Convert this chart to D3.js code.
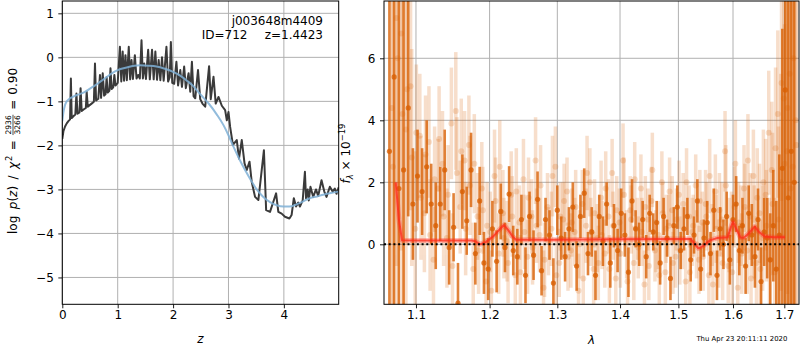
<!DOCTYPE html>
<html><head><meta charset="utf-8">
<script src="https://cdn.jsdelivr.net/npm/d3@7"></script>
<style>
body{margin:0;background:#fff}
svg{display:block}
text{font-family:"DejaVu Sans",sans-serif}
</style>
</head><body>
<svg id="c" width="800" height="350"></svg>
<script>
// ---------- DATA ----------
const pzZ = [0.00,0.02,0.05,0.08,0.11,0.14,0.155,0.17,0.20,0.235,0.255,0.275,0.31,0.33,0.35,0.39,0.425,0.44,0.46,0.50,
0.54,0.57,0.59,0.61,0.65,0.68,0.70,0.73,0.755,0.78,0.80,0.82,0.85,0.87,0.89,0.92,0.94,0.96,1.00,1.04,
1.065,1.09,1.115,1.14,1.165,1.20,1.225,1.25,1.275,1.31,1.34,1.37,1.40,1.43,1.455,1.48,1.51,1.55,1.58,1.62,
1.65,1.68,1.71,1.74,1.77,1.80,1.83,1.88,1.91,1.94,1.96,1.985,2.02,2.06,2.09,2.13,2.16,2.20,2.23,2.28,
2.31,2.34,2.37,2.40,2.45,2.49,2.53,2.58,2.65,2.68,2.73,2.77,2.82,2.88,2.94,2.97,3.00,3.03,3.08,3.15,
3.19,3.24,3.29,3.33,3.38,3.42,3.48,3.54,3.58,3.64,3.68,3.75,3.81,3.86,3.90,3.96,4.02,4.10,4.14,4.18,
4.22,4.26,4.29,4.34,4.38,4.40,4.43,4.45,4.48,4.53,4.58,4.62,4.68,4.73,4.77,4.83,4.88,4.92,4.95,4.99];
const pzLogp = [-1.85,-1.68,-1.57,-1.50,-1.45,-1.41,-0.48,-1.38,-1.34,-1.30,-0.82,-1.28,-1.25,-0.70,-1.22,-1.18,-1.15,-0.78,-1.12,-1.08,
-1.04,-1.01,-0.14,-0.98,-0.94,-0.40,-0.92,-0.36,-0.87,-0.84,-0.45,-0.80,-0.76,-0.25,-0.72,-0.68,-0.40,-0.64,-0.58,0.24,
-0.55,0.13,-0.53,0.05,-0.52,0.24,-0.50,-0.06,-0.49,0.05,-0.48,-0.40,-0.48,0.39,-0.48,-0.14,-0.49,0.17,-0.50,0.17,
-0.50,0.13,-0.51,-0.06,-0.52,0.00,-0.53,0.24,-0.55,-0.45,0.35,-0.58,-0.60,-0.10,-0.64,-0.29,-0.67,-0.21,-0.70,-0.36,
-0.78,-0.10,-0.88,-0.93,-0.29,-0.95,-1.05,-1.12,-0.20,-0.95,-0.44,-1.05,-0.90,-1.10,-1.20,-1.43,-1.24,-1.58,-1.99,-1.88,
-2.30,-1.88,-2.41,-2.56,-2.37,-2.83,-3.17,-3.24,-2.79,-2.11,-3.47,-3.51,-3.28,-3.09,-3.51,-3.55,-3.62,-3.66,-3.58,-3.20,
-3.39,-3.30,-3.39,-3.25,-2.60,-3.20,-3.00,-3.25,-2.94,-3.17,-3.00,-3.15,-2.79,-3.05,-3.17,-2.94,-3.05,-2.98,-3.10,-2.95];

const priorZ = [0.00,0.02,0.05,0.08,0.13,0.2,0.3,0.4,0.5,0.6,0.7,0.8,0.9,1.0,1.16,1.3,1.4,1.55,1.7,1.85,2.0,2.12,2.25,2.37,
2.45,2.55,2.65,2.79,2.91,3.0,3.09,3.2,3.3,3.4,3.51,3.62,3.75,3.87,3.99,4.1,4.23,4.35,4.47,4.6,4.71,4.85,4.99];
const priorLogp = [-1.45,-1.25,-1.08,-1.00,-0.94,-0.89,-0.84,-0.79,-0.71,-0.63,-0.54,-0.45,-0.36,-0.29,-0.23,-0.19,-0.18,-0.19,-0.21,-0.26,-0.33,-0.41,-0.53,-0.66,
-0.78,-0.92,-1.06,-1.30,-1.54,-1.77,-2.03,-2.32,-2.56,-2.78,-3.00,-3.16,-3.29,-3.36,-3.39,-3.39,-3.34,-3.27,-3.20,-3.16,-3.12,-3.08,-3.05];

const zTicks = [0,1,2,3,4];
const logpTicks = [-5,-4,-3,-2,-1,0,1];
const lamTicks = [1.1,1.2,1.3,1.4,1.5,1.6,1.7];
const fluxTicks = [0,2,4,6];

const darkWave = [1.066,1.072,1.078,1.084,1.090,1.096,1.102,1.108,1.114,1.120,
1.126,1.132,1.138,1.144,1.150,1.156,1.162,1.168,1.174,1.180,
1.186,1.192,1.198,1.204,1.210,1.216,1.222,1.228,1.234,1.240,
1.246,1.252,1.258,1.264,1.270,1.276,1.282,1.288,1.294,1.300,
1.306,1.312,1.318,1.324,1.330,1.336,1.342,1.348,1.354,1.360,
1.366,1.372,1.378,1.384,1.390,1.396,1.402,1.408,1.414,1.420,
1.426,1.432,1.438,1.444,1.450,1.456,1.462,1.468,1.474,1.480,
1.486,1.492,1.498,1.504,1.510,1.516,1.522,1.528,1.534,1.540,
1.546,1.552,1.558,1.564,1.570,1.576,1.582,1.588,1.594,1.600,
1.606,1.612,1.618,1.624,1.630,1.636,1.642,1.648,1.654,1.660,
1.666,1.672,1.678,1.684,1.690,1.696,1.702,1.708,1.714,1.720];
const darkFlux = [3.0,5.4,1.8,2.4,4.4,1.3,2.2,1.7,2.5,1.3,
0.6,1.3,2.4,-0.1,0.55,-1.9,1.7,0.76,2.4,-0.3,
1.4,-0.6,-0.8,0.5,-0.55,1.06,-0.1,1.62,-0.2,-0.4,
0.8,-1.0,0.9,-0.35,1.45,-0.85,0.8,0.3,-1.25,1.1,
0.2,-0.4,0.5,1.2,-0.7,0.9,1.65,-0.3,0.4,-1.0,
0.9,0.1,1.3,-0.6,0.6,-0.2,1.0,0.3,-0.9,1.4,
0.5,0.0,0.8,-0.4,1.0,0.4,0.7,-0.6,0.9,0.2,
-1.1,0.6,1.2,-0.2,0.5,0.9,-0.5,0.3,1.4,-0.8,
0.2,0.7,-0.3,1.1,-1.0,0.5,0.0,0.9,-0.5,0.8,
1.3,-0.2,0.6,-0.7,1.0,0.3,-0.4,0.8,-1.2,0.4,
0.2,-0.5,0.6,-0.8,0.3,2.45,4.98,1.5,3.0,2.0];
const darkErr = [9,8,7,6,3.5,1.8,1.5,1.4,1.5,1.3,
1.4,1.2,1.3,1.2,1.1,1.3,1.2,1.1,1.2,1.0,
1.1,1.0,1.0,0.9,1.0,0.9,0.8,0.9,0.8,0.9,
0.8,0.9,0.8,0.8,0.9,0.8,0.7,0.8,0.8,0.8,
0.7,0.8,0.7,0.8,0.8,0.7,0.8,0.7,0.8,0.8,
0.7,0.8,0.7,0.8,0.7,0.7,0.8,0.7,0.8,0.7,
0.6,0.7,0.6,0.7,0.6,0.6,0.7,0.7,0.6,0.6,
0.7,0.6,0.7,0.6,0.7,0.6,0.7,0.6,0.7,0.7,
0.6,0.7,0.7,0.7,0.8,0.7,0.8,0.8,0.8,0.8,
0.9,0.8,0.9,0.9,0.9,1.0,1.0,1.0,1.1,1.1,
1.3,1.5,1.8,2.2,2.6,4.5,7,9,10,10];

const lightWave = [1.069,1.075,1.081,1.087,1.093,1.099,1.105,1.111,1.117,1.123,
1.129,1.135,1.141,1.147,1.153,1.159,1.165,1.171,1.177,1.183,
1.189,1.195,1.201,1.207,1.213,1.219,1.225,1.231,1.237,1.243,
1.249,1.255,1.261,1.267,1.273,1.279,1.285,1.291,1.297,1.303,
1.309,1.315,1.321,1.327,1.333,1.339,1.345,1.351,1.357,1.363,
1.369,1.375,1.381,1.387,1.393,1.399,1.405,1.411,1.417,1.423,
1.429,1.435,1.441,1.447,1.453,1.459,1.465,1.471,1.477,1.483,
1.489,1.495,1.501,1.507,1.513,1.519,1.525,1.531,1.537,1.543,
1.549,1.555,1.561,1.567,1.573,1.579,1.585,1.591,1.597,1.603,
1.609,1.615,1.621,1.627,1.633,1.639,1.645,1.651,1.657,1.663,
1.669,1.675,1.681,1.687,1.693,1.699,1.705,1.711,1.717,1.723];
const lightFlux = [4.4,7.3,6.8,3.7,5.1,0.5,3.5,1.0,3.3,-0.5,
1.8,2.6,0.2,3.9,4.3,1.2,2.7,3.2,-0.8,0.9,
1.8,-1.2,0.4,2.2,-0.3,1.0,0.1,1.6,-1.0,0.7,
2.1,-0.4,0.9,2.7,0.3,-1.4,1.2,0.5,2.5,-0.6,
0.8,1.7,-0.2,0.4,-1.5,1.3,0.6,2.0,-0.8,0.2,
1.5,-0.3,0.9,2.3,-1.1,0.7,2.7,0.0,1.1,-0.6,
0.5,1.8,-1.3,0.8,1.4,-0.2,0.3,2.0,-0.9,0.6,
1.1,-0.4,1.6,0.2,-1.2,0.9,0.4,1.9,-0.5,0.7,
1.3,-1.0,0.3,1.7,-0.3,0.8,3.0,-0.7,0.5,1.2,
-1.4,0.6,1.8,-0.2,0.9,2.2,-0.6,1.0,0.2,1.6,
3.6,2.4,-0.9,4.2,2.0,4.7,3.0,5.5,2.5,4.0];
const lightErr = [9,8,7,6,4,2.5,2.0,1.9,1.8,1.7,
1.6,1.7,1.6,1.8,1.9,1.5,1.6,1.6,1.5,1.4,
1.5,1.4,1.3,1.5,1.3,1.4,1.3,1.4,1.3,1.2,
1.3,1.2,1.2,1.4,1.2,1.2,1.1,1.2,1.3,1.1,
1.2,1.1,1.2,1.1,1.2,1.1,1.2,1.1,1.2,1.1,
1.2,1.1,1.2,1.1,1.2,1.1,1.2,1.1,1.1,1.2,
1.0,1.1,1.1,1.0,1.1,1.0,1.1,1.0,1.1,1.0,
1.1,1.0,1.1,1.0,1.1,1.0,1.1,1.0,1.1,1.0,
1.1,1.1,1.0,1.2,1.1,1.2,1.3,1.2,1.2,1.3,
1.3,1.3,1.4,1.4,1.4,1.5,1.5,1.6,1.7,1.8,
2.0,2.2,2.4,2.7,3.5,4.5,6,8,9,10];

const light2Wave = [1.0705,1.0765,1.0825,1.0885,1.0945,1.1005,1.1065,1.1125,1.1185,1.1245,
1.1305,1.1365,1.1425,1.1485,1.1545,1.1605,1.1665,1.1725,1.1785,1.1845,
1.1905,1.1965,1.2025,1.2085,1.2145,1.2205,1.2265,1.2325,1.2385,1.2445,
1.2505,1.2565,1.2625,1.2685,1.2745,1.2805,1.2865,1.2925,1.2985,1.3045,
1.3105,1.3165,1.3225,1.3285,1.3345,1.3405,1.3465,1.3525,1.3585,1.3645,
1.3705,1.3765,1.3825,1.3885,1.3945,1.4005,1.4065,1.4125,1.4185,1.4245,
1.4305,1.4365,1.4425,1.4485,1.4545,1.4605,1.4665,1.4725,1.4785,1.4845,
1.4905,1.4965,1.5025,1.5085,1.5145,1.5205,1.5265,1.5325,1.5385,1.5445,
1.5505,1.5565,1.5625,1.5685,1.5745,1.5805,1.5865,1.5925,1.5985,1.6045,
1.6105,1.6165,1.6225,1.6285,1.6345,1.6405,1.6465,1.6525,1.6585,1.6645,
1.6705,1.6765,1.6825,1.6885,1.6945,1.7005,1.7065,1.7125,1.7185,1.7245];
const light2Flux = [2.5,6.0,4.2,5.0,2.8,3.6,1.5,2.9,0.3,2.1,
3.4,0.9,1.6,-0.7,2.3,3.0,0.5,1.9,2.6,-0.2,
1.1,0.6,-1.5,1.4,2.5,0.2,-0.6,0.9,1.7,-0.9,
0.4,1.5,-0.1,0.6,1.9,-0.5,0.1,2.2,-1.0,0.9,
1.4,-0.4,0.7,1.2,0.0,-1.1,2.3,0.4,1.0,-0.6,
0.3,1.8,-0.8,0.6,1.1,-0.3,1.6,-1.2,0.8,2.1,
-0.1,0.4,1.2,-0.7,2.4,0.1,-1.0,1.0,0.5,1.7,
-0.6,0.8,-0.2,1.3,2.0,-0.9,0.6,0.0,1.4,-0.4,
0.9,2.2,-1.3,0.5,1.1,-0.6,1.9,0.3,-0.9,2.6,
0.7,-0.3,1.2,2.7,-1.1,0.4,1.5,-0.8,2.0,0.6,
-0.5,1.3,3.1,0.8,5.2,2.6,4.4,1.8,6.0,3.2];
const light2Err = [8,8,7,5,3.5,2.2,2.0,1.9,1.8,1.7,
1.7,1.6,1.6,1.7,1.8,1.7,1.5,1.6,1.6,1.4,
1.4,1.4,1.3,1.4,1.5,1.3,1.3,1.3,1.4,1.2,
1.2,1.3,1.2,1.2,1.3,1.2,1.1,1.3,1.2,1.1,
1.2,1.1,1.1,1.2,1.1,1.2,1.2,1.1,1.1,1.2,
1.1,1.2,1.1,1.1,1.1,1.1,1.2,1.1,1.1,1.2,
1.0,1.1,1.0,1.1,1.2,1.0,1.1,1.0,1.1,1.1,
1.0,1.0,1.1,1.0,1.1,1.1,1.0,1.1,1.0,1.1,
1.1,1.2,1.1,1.1,1.2,1.2,1.3,1.2,1.2,1.4,
1.3,1.3,1.4,1.5,1.4,1.5,1.6,1.6,1.7,1.8,
2.0,2.3,2.6,3.0,3.8,4.5,6,8,9,10];

const modelWave = [1.074,1.078,1.082,1.10,1.15,1.175,1.180,1.1865,1.195,1.205,1.215,1.2206,1.227,1.233,1.238,1.30,1.40,1.50,1.522,1.530,
1.5357,1.545,1.555,1.5586,1.57,1.590,1.596,1.600,1.606,1.614,1.6206,1.630,1.6415,1.650,1.6611,1.68,1.7015];
const modelFlux = [2.0,0.8,0.13,0.12,0.12,0.12,0.10,0.0,0.08,0.25,0.50,0.62,0.45,0.25,0.15,0.15,0.16,0.17,0.17,0.0,
-0.13,-0.05,0.10,0.14,0.20,0.23,0.55,0.73,0.5,0.22,0.21,0.35,0.57,0.40,0.25,0.23,0.23];

const objName = "j003648m4409", objID = "ID=712", objZ = "z=1.4423";
const stamp = "Thu Apr 23 20:11:11 2020";

// ---------- LAYOUT ----------
const svg = d3.select("#c");
const L = {x0:62.3, x1:338.7, y0:1, y1:304.3};
const R = {x0:384, x1:799, y0:1, y1:304.3};
const FS = 12;
const gridCol = "#b0b0b0";
const orange = "#d95f02";

const xL = d3.scaleLinear().domain([0,4.99]).range([L.x0,L.x1]);
const yL = d3.scaleLinear().domain([-5.61,1.28]).range([L.y1,L.y0]);
const xR = d3.scaleLog().domain([1.0592,1.7298]).range([R.x0,R.x1]);
const yR = d3.scaleLinear().domain([-1.935,7.848]).range([R.y1,R.y0]);

const defs = svg.append("defs");
defs.append("clipPath").attr("id","clipL").append("rect")
  .attr("x",L.x0).attr("y",L.y0).attr("width",L.x1-L.x0).attr("height",L.y1-L.y0);
defs.append("clipPath").attr("id","clipR").append("rect")
  .attr("x",R.x0).attr("y",R.y0).attr("width",R.x1-R.x0).attr("height",R.y1-R.y0);

function grid(P, xs, ys, xt, yt){
  const g = svg.append("g").attr("stroke",gridCol).attr("stroke-width",1);
  xt.forEach(t=>g.append("line").attr("x1",xs(t)).attr("x2",xs(t)).attr("y1",P.y0).attr("y2",P.y1));
  yt.forEach(t=>g.append("line").attr("y1",ys(t)).attr("y2",ys(t)).attr("x1",P.x0).attr("x2",P.x1));
}
function axes(P, xs, ys, xt, yt, xfmt, yfmt){
  const ax = svg.append("g").attr("transform",`translate(0,${P.y1})`)
    .call(d3.axisBottom(xs).tickValues(xt).tickFormat(xfmt).tickSizeInner(4).tickSizeOuter(0).tickPadding(2.5));
  const ay = svg.append("g").attr("transform",`translate(${P.x0},0)`)
    .call(d3.axisLeft(ys).tickValues(yt).tickFormat(yfmt).tickSizeInner(4).tickSizeOuter(0).tickPadding(4.5));
  [ax,ay].forEach(a=>{
    a.select(".domain").remove();
    a.selectAll("line").attr("stroke","#000").attr("stroke-width",0.9);
    a.selectAll("text").attr("font-size",FS).attr("font-family","DejaVu Sans").attr("fill","#000");
  });
  svg.append("rect").attr("x",P.x0).attr("y",P.y0).attr("width",P.x1-P.x0).attr("height",P.y1-P.y0)
    .attr("fill","none").attr("stroke","#000").attr("stroke-width",1);
}

// ---------- LEFT PANEL ----------
grid(L, xL, yL, zTicks, logpTicks);
const gl = svg.append("g").attr("clip-path","url(#clipL)");
const lineL = d3.line().x(d=>xL(d[0])).y(d=>yL(d[1]));
gl.append("path").datum(pzZ.map((z,i)=>[z,pzLogp[i]]))
  .attr("d",lineL).attr("fill","none").attr("stroke","#3a3a3a").attr("stroke-width",2).attr("stroke-linejoin","round");
gl.append("path").datum(priorZ.map((z,i)=>[z,priorLogp[i]]))
  .attr("d",d3.line().curve(d3.curveMonotoneX).x(d=>xL(d[0])).y(d=>yL(d[1])))
  .attr("fill","none").attr("stroke","#7fb0d6").attr("stroke-width",2).attr("opacity",0.85);
axes(L, xL, yL, zTicks, logpTicks, d3.format("d"), d3.format("d"));

svg.append("text").attr("x",323).attr("y",24.5).attr("text-anchor","end").attr("font-size",FS).text(objName);
svg.append("text").attr("x",247.5).attr("y",39).attr("text-anchor","end").attr("font-size",FS).text(objID);
svg.append("text").attr("x",323).attr("y",39).attr("text-anchor","end").attr("font-size",FS).text(objZ);

svg.append("text").attr("x",(L.x0+L.x1)/2).attr("y",343).attr("text-anchor","middle")
  .attr("font-size",FS).attr("font-style","italic").text("z");

// left y label (rotated mathtext)
(function(){
  const g = svg.append("g");
  let cur = 0;
  function add(build, gap){ const t = build(); t.attr("x",cur); cur += t.node().getComputedTextLength() + gap; return t; }
  add(()=>g.append("text").attr("font-size",FS).text("log"), 6.5);
  add(()=>{ const t=g.append("text").attr("font-size",FS);
    t.append("tspan").attr("font-style","italic").text("p");
    t.append("tspan").text("(");
    t.append("tspan").attr("font-style","italic").text("z");
    t.append("tspan").text(")"); return t;}, 6.5);
  add(()=>g.append("text").attr("font-size",FS).text("/"), 6.5);
  add(()=>g.append("text").attr("font-size",FS).attr("font-style","italic").text("χ"), 0.8);
  add(()=>g.append("text").attr("font-size",8.4).attr("y",-5).text("2"), 5.5);
  add(()=>g.append("text").attr("font-size",FS).text("="), 5);
  const num = g.append("text").attr("font-size",7.6).attr("y",-5.8).attr("text-anchor","middle").text("2936");
  const den = g.append("text").attr("font-size",7.6).attr("y",3.2).attr("text-anchor","middle").text("3266");
  const fw = Math.max(num.node().getComputedTextLength(), den.node().getComputedTextLength());
  num.attr("x",cur+fw/2+0.5); den.attr("x",cur+fw/2+0.5);
  g.append("line").attr("x1",cur).attr("x2",cur+fw+1).attr("y1",-4).attr("y2",-4).attr("stroke","#000").attr("stroke-width",0.7);
  cur += fw+1+5;
  add(()=>g.append("text").attr("font-size",FS).text("="), 5);
  add(()=>g.append("text").attr("font-size",FS).text("0.90"), 0);
  const cy = 151 + cur/2;
  g.attr("transform",`translate(17,${cy}) rotate(-90)`);
})();

// ---------- RIGHT PANEL ----------
grid(R, xR, yR, lamTicks, fluxTicks);
const gr = svg.append("g").attr("clip-path","url(#clipR)");
function spec(wave, flux, err, bw, r, op){
  const idx = d3.range(wave.length);
  gr.append("g").selectAll("line").data(idx).join("line")
    .attr("x1",i=>xR(wave[i])).attr("x2",i=>xR(wave[i]))
    .attr("y1",i=>yR(flux[i]-err[i])).attr("y2",i=>yR(flux[i]+err[i]))
    .attr("stroke",orange).attr("stroke-width",bw).attr("opacity",op);
  gr.append("g").selectAll("circle").data(idx).join("circle")
    .attr("cx",i=>xR(wave[i])).attr("cy",i=>yR(flux[i])).attr("r",r)
    .attr("fill",orange).attr("opacity",op);
}
spec(lightWave, lightFlux, lightErr, 3.5, 3, 0.2);
spec(light2Wave, light2Flux, light2Err, 3.5, 3, 0.2);
spec(darkWave, darkFlux, darkErr, 2.6, 2.6, 0.78);

const lineR = d3.line().x(d=>xR(d[0])).y(d=>yR(d[1]));
const mdat = modelWave.map((w,i)=>[w,modelFlux[i]]);
gr.append("path").datum(mdat).attr("d",lineR).attr("fill","none").attr("stroke","#ff2a1a")
  .attr("stroke-width",5).attr("opacity",0.3).attr("stroke-linejoin","round");
gr.append("path").datum(mdat).attr("d",lineR).attr("fill","none").attr("stroke","#ff2a1a")
  .attr("stroke-width",2).attr("opacity",0.75).attr("stroke-linejoin","round");
gr.append("line").attr("x1",R.x0).attr("x2",R.x1).attr("y1",yR(0)).attr("y2",yR(0))
  .attr("stroke","#000").attr("stroke-width",2).attr("stroke-dasharray","2,2.7");

axes(R, xR, yR, lamTicks, fluxTicks, d3.format(".1f"), d3.format("d"));

svg.append("text").attr("x",(R.x0+R.x1)/2).attr("y",344).attr("text-anchor","middle")
  .attr("font-size",FS).attr("font-style","italic").text("λ");

(function(){
  const g = svg.append("g").attr("transform","translate(350,153.5) rotate(-90)");
  const t = g.append("text").attr("text-anchor","middle").attr("font-size",FS);
  t.append("tspan").attr("font-style","italic").text("f");
  t.append("tspan").attr("font-style","italic").attr("font-size",8.4).attr("dy",2.5).text("λ");
  t.append("tspan").attr("dy",-2.5).text(" × 10");
  t.append("tspan").attr("font-size",8.4).attr("dy",-5).text("−19");
})();

svg.append("text").attr("x",787.3).attr("y",340.5).attr("text-anchor","end").attr("font-size",6.9).text(stamp);
</script>
</body></html>
